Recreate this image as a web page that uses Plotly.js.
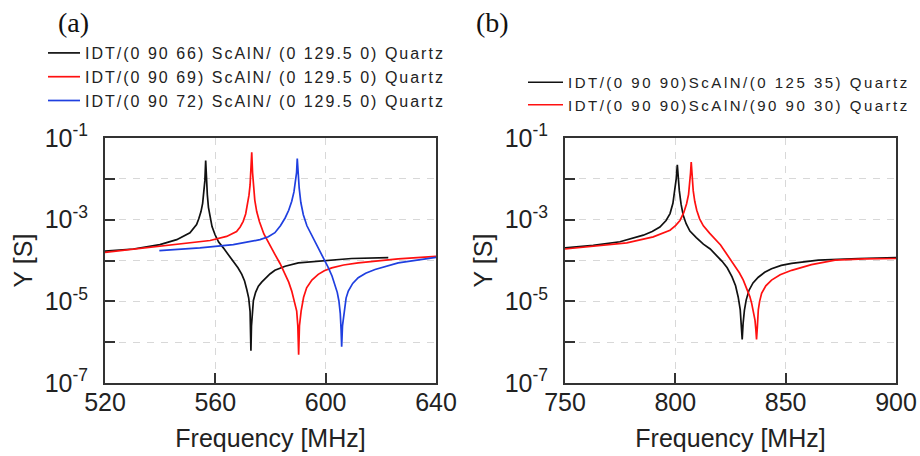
<!DOCTYPE html>
<html>
<head>
<meta charset="utf-8">
<script src="https://cdn.plot.ly/plotly-3.0.1.min.js"></script>
<style>
  html, body { margin: 0; padding: 0; background: #fff; }
  #chart { width: 920px; height: 456px; }
  /* the reference legend text is set wider than plain Arial (global rule so Plotly's text measurer sees it too) */
  text.legendtext { letter-spacing: 2px; }
  text.legend2text { letter-spacing: 2.5px; }
</style>
</head>
<body>
<div id="chart"></div>
<script>
// ---------- Panel (a): frequency [MHz] and admittance |Y| [S] ----------
const freqA66 = [520, 530.3, 539.9, 546, 550.8, 552.0, 553.2, 554.0, 554.8, 555.4, 555.9, 556.2, 556.5, 556.8, 557.1, 557.5, 558.1, 558.8, 559.9, 561.2, 562.9, 564.5, 566.5, 568.2, 569.6, 570.6, 571.4, 572.1, 572.6, 572.8, 572.9, 573.1, 573.4, 573.8, 574.6, 575.6, 576.8, 578.0, 579.8, 581.6, 585.3, 590.1, 599.8, 609.4, 622.7];
const yA66 = [1.70e-4, 1.91e-4, 2.45e-4, 3.24e-4, 4.79e-4, 5.89e-4, 7.59e-4, 1.05e-3, 1.58e-3, 2.51e-3, 4.90e-3, 8.91e-3, 2.82e-2, 8.91e-3, 4.07e-3, 2.00e-3, 1.10e-3, 6.76e-4, 4.27e-4, 2.82e-4, 2.04e-4, 1.45e-4, 9.55e-5, 6.61e-5, 4.57e-5, 3.16e-5, 1.95e-5, 1.20e-5, 5.62e-6, 2.00e-6, 6.17e-7, 2.51e-6, 6.31e-6, 1.05e-5, 1.66e-5, 2.34e-5, 2.95e-5, 3.55e-5, 4.68e-5, 5.75e-5, 7.24e-5, 8.71e-5, 1.00e-4, 1.12e-4, 1.17e-4];

const freqA69 = [520, 536.3, 548.4, 558.1, 564.1, 567.7, 569.0, 570.1, 571.0, 571.7, 572.2, 572.6, 572.9, 573.2, 573.5, 573.8, 574.3, 575.0, 576.0, 577.6, 579.5, 581.6, 583.5, 585.3, 586.6, 587.7, 588.7, 589.5, 589.9, 590.2, 590.5, 591.1, 592.0, 593.1, 595.0, 597.3, 599.5, 602.2, 606.5, 611.8, 626.3, 640];
const yA69 = [1.58e-4, 2.14e-4, 2.69e-4, 3.09e-4, 3.89e-4, 5.13e-4, 6.61e-4, 9.12e-4, 1.38e-3, 2.34e-3, 3.98e-3, 7.08e-3, 1.41e-2, 4.47e-2, 1.41e-2, 5.89e-3, 3.02e-3, 1.58e-3, 8.91e-4, 4.47e-4, 2.51e-4, 1.41e-4, 8.32e-5, 4.57e-5, 2.95e-5, 1.78e-5, 1.00e-5, 5.75e-6, 2.51e-6, 4.90e-7, 2.51e-6, 5.75e-6, 1.26e-5, 2.14e-5, 3.31e-5, 4.57e-5, 5.62e-5, 6.61e-5, 7.76e-5, 8.71e-5, 1.10e-4, 1.26e-4];

const freqA72 = [539.7, 554.4, 566.5, 576.2, 579.2, 581.6, 583.6, 585.3, 586.6, 587.7, 588.5, 589.1, 589.45, 589.7, 590.0, 590.4, 591.0, 591.9, 593.2, 594.9, 596.7, 598.6, 601.0, 602.3, 603.4, 604.2, 604.8, 605.3, 605.6, 605.8, 606.1, 606.8, 607.4, 608.2, 609.8, 611.8, 614.5, 617.9, 626.3, 640];
const yA72 = [1.74e-4, 2.04e-4, 2.45e-4, 3.24e-4, 3.80e-4, 4.79e-4, 7.08e-4, 1.10e-3, 1.70e-3, 2.82e-3, 4.79e-3, 8.51e-3, 1.41e-2, 3.16e-2, 1.41e-2, 5.89e-3, 2.63e-3, 1.32e-3, 7.08e-4, 4.27e-4, 2.40e-4, 1.41e-4, 6.61e-5, 4.17e-5, 2.57e-5, 1.66e-5, 1.02e-5, 5.01e-6, 2.00e-6, 7.76e-7, 2.51e-6, 7.08e-6, 1.20e-5, 1.78e-5, 2.75e-5, 3.80e-5, 4.90e-5, 6.03e-5, 8.71e-5, 1.20e-4];

// ---------- Panel (b) ----------
const freqB1 = [750, 762.8, 774.9, 785.5, 789.5, 793.0, 795.8, 797.6, 798.9, 799.8, 800.4, 800.9, 801.3, 801.8, 802.6, 803.6, 804.9, 806.6, 809.5, 812.7, 815.8, 818.7, 821.2, 823.5, 825.7, 827.3, 828.5, 829.4, 829.9, 830.3, 830.7, 831.3, 832.1, 833.3, 835.2, 837.6, 840.5, 843.6, 848.0, 852.7, 864.8, 882.9, 900];
const yB1 = [2.04e-4, 2.34e-4, 2.88e-4, 4.17e-4, 5.13e-4, 6.61e-4, 9.55e-4, 1.41e-3, 2.51e-3, 5.13e-3, 1.00e-2, 2.19e-2, 1.00e-2, 5.13e-3, 2.40e-3, 1.26e-3, 7.94e-4, 5.25e-4, 3.63e-4, 2.51e-4, 1.91e-4, 1.35e-4, 9.55e-5, 6.61e-5, 3.98e-5, 2.40e-5, 1.26e-5, 6.31e-6, 3.16e-6, 1.17e-6, 2.82e-6, 6.03e-6, 1.07e-5, 1.82e-5, 2.82e-5, 3.89e-5, 5.13e-5, 6.31e-5, 7.59e-5, 8.51e-5, 1.02e-4, 1.12e-4, 1.17e-4];

const freqB2 = [750, 762.8, 778, 790, 797.6, 800.2, 802.1, 803.8, 805.1, 806.0, 806.6, 806.9, 807.2, 807.6, 808.1, 808.8, 809.7, 811.0, 812.7, 815.5, 818.7, 820.5, 822.5, 824.8, 827.0, 829.0, 830.8, 832.4, 833.8, 834.6, 835.3, 836.1, 836.5, 836.8, 837.2, 837.6, 838.2, 839.1, 841.0, 843.6, 847.5, 852.7, 861.7, 872.4, 885.9, 900];
const yB2 = [1.91e-4, 2.24e-4, 2.69e-4, 3.80e-4, 5.50e-4, 7.24e-4, 9.55e-4, 1.48e-3, 2.45e-3, 4.17e-3, 7.59e-3, 1.41e-2, 2.57e-2, 1.12e-2, 5.13e-3, 2.82e-3, 1.70e-3, 1.05e-3, 7.08e-4, 4.68e-4, 3.16e-4, 2.40e-4, 1.66e-4, 1.10e-4, 7.41e-5, 5.01e-5, 3.31e-5, 2.09e-5, 1.29e-5, 8.91e-6, 6.17e-6, 3.47e-6, 2.00e-6, 1.17e-6, 2.51e-6, 6.17e-6, 1.00e-5, 1.58e-5, 2.40e-5, 3.31e-5, 4.47e-5, 5.75e-5, 7.94e-5, 1.02e-4, 1.10e-4, 1.12e-4];

const namesA = ["IDT/(0 90 66) ScAlN/ (0 129.5 0) Quartz", "IDT/(0 90 69) ScAlN/ (0 129.5 0) Quartz", "IDT/(0 90 72) ScAlN/ (0 129.5 0) Quartz"];
const namesB = ["IDT/(0 90 90)ScAlN/(0 125 35) Quartz", "IDT/(0 90 90)ScAlN/(90 90 30) Quartz"];

const xTicksA = [520, 560, 600, 640];
const xTicksB = [750, 800, 850, 900];
const yTickVals = [1e-7, 1e-5, 1e-3, 1e-1];
const yTickText = ["10<sup>-7</sup>", "10<sup>-5</sup>", "10<sup>-3</sup>", "10<sup>-1</sup>"];
const yMinorVals = [1e-6, 1e-4, 1e-2];

const BLACK = "#111111", RED = "#ff1010", BLUE = "#1f3fe0";
const FONT = "Liberation Sans, Arial, sans-serif";

function tr(x, y, name, color, xa, ya, leg) {
  return { x: x, y: y, name: name, type: "scatter", mode: "lines",
           line: { color: color, width: 1.7 }, xaxis: xa, yaxis: ya, legend: leg };
}

const data = [
  tr(freqA66, yA66, namesA[0], BLACK, "x", "y", "legend"),
  tr(freqA69, yA69, namesA[1], RED, "x", "y", "legend"),
  tr(freqA72, yA72, namesA[2], BLUE, "x", "y", "legend"),
  tr(freqB1, yB1, namesB[0], BLACK, "x2", "y2", "legend2"),
  tr(freqB2, yB2, namesB[1], RED, "x2", "y2", "legend2")
];

// plot area geometry (px): margins l=105, r=24, t=138, b=73 -> width 791, height 245
const W = 920, H = 456, L = 105, R = 24, T = 138, B = 73;
const PW = W - L - R, PH = H - T - B;
const GRID = { showgrid: true, gridcolor: "#d8d8d8", gridwidth: 1, griddash: "7px,7px" };

function xAxis(range, ticks, domain) {
  return Object.assign({
    domain: domain, range: range, tickvals: ticks, ticktext: ticks.map(String),
    ticks: "inside", ticklen: 10, tickwidth: 1.5, tickcolor: "#333",
    showline: true, linewidth: 2, linecolor: "#333", mirror: true,
    zeroline: false, ticklabelstandoff: -4,
    tickfont: { family: FONT, size: 25, color: "#222" },
    title: { text: "Frequency [MHz]", font: { family: FONT, size: 25, color: "#222" }, standoff: 14 }
  }, GRID);
}
function yAxis(anchor) {
  return Object.assign({
    type: "log", range: [-7, -1], anchor: anchor,
    tickvals: yTickVals, ticktext: yTickText,
    ticks: "inside", ticklen: 10, tickwidth: 1.5, tickcolor: "#333",
    minor: Object.assign({ tickvals: yMinorVals, ticks: "inside", ticklen: 10, tickwidth: 1.5, tickcolor: "#333" }, GRID),
    showline: true, linewidth: 2, linecolor: "#333", mirror: true,
    zeroline: false, ticklabelstandoff: 10,
    tickfont: { family: FONT, size: 25, color: "#222" },
    title: { text: "Y [S]", font: { family: FONT, size: 25, color: "#222" }, standoff: 5 }
  }, GRID);
}

const layout = {
  width: W, height: H,
  margin: { l: L, r: R, t: T, b: B, pad: 0, autoexpand: false },
  paper_bgcolor: "#ffffff", plot_bgcolor: "#ffffff",
  font: { family: FONT, color: "#222" },
  xaxis: xAxis([520, 640], xTicksA, [0, 331 / PW]),
  yaxis: yAxis("x"),
  xaxis2: Object.assign(xAxis([750, 900], xTicksB, [(565 - L) / PW, 1]), { anchor: "y2" }),
  yaxis2: yAxis("x2"),
  legend: {
    x: (43 - L) / PW, y: (H - B - 36) / PH, xanchor: "left", yanchor: "top",
    bgcolor: "rgba(0,0,0,0)", borderwidth: 0, itemwidth: 32,
    font: { family: FONT, size: 16, color: "#222" }
  },
  legend2: {
    x: (523 - L) / PW, y: (H - B - 66) / PH, xanchor: "left", yanchor: "top",
    bgcolor: "rgba(0,0,0,0)", borderwidth: 0, itemwidth: 35,
    font: { family: FONT, size: 15, color: "#222" }
  },
  annotations: [
    { text: "(a)", xref: "paper", yref: "paper", x: (73 - L) / PW, y: (H - B - 23) / PH,
      xanchor: "center", yanchor: "middle", showarrow: false,
      font: { family: "Liberation Serif, Times New Roman, serif", size: 28, color: "#111" } },
    { text: "(b)", xref: "paper", yref: "paper", x: (492 - L) / PW, y: (H - B - 22) / PH,
      xanchor: "center", yanchor: "middle", showarrow: false,
      font: { family: "Liberation Serif, Times New Roman, serif", size: 28, color: "#111" } }
  ]
};

Plotly.newPlot("chart", data, layout, { displayModeBar: false, responsive: false });
</script>
</body>
</html>
